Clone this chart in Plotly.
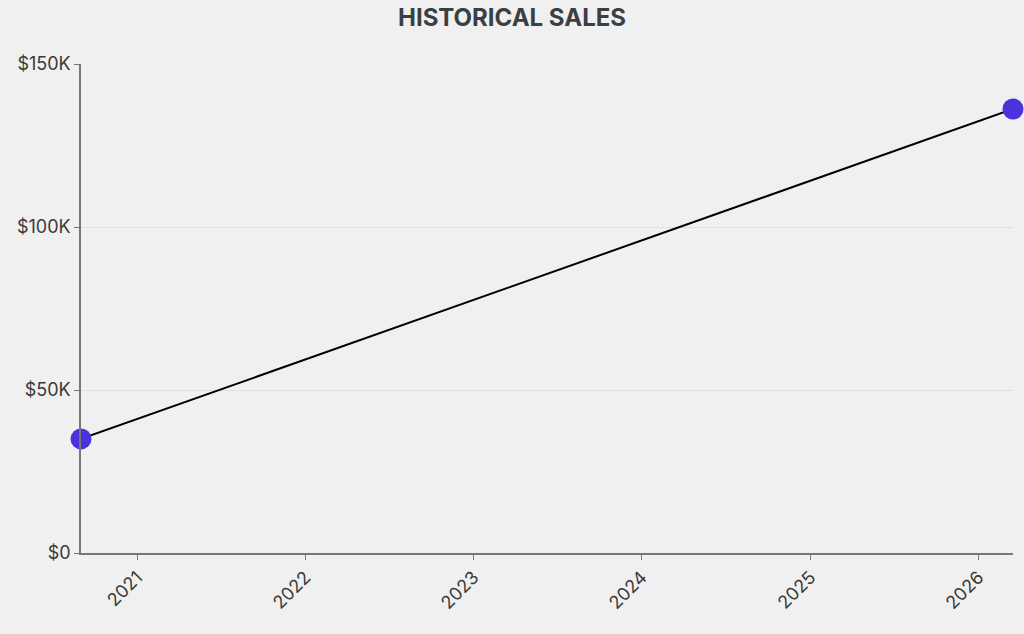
import plotly.graph_objects as go

dates = ["2020-09-01", "2026-03-17"]
sales = [35000, 136200]
y_ticks = [0, 50000, 100000, 150000]
y_labels = ["$0", "$50K", "$100K", "$150K"]
x_ticks = ["2021-01-01", "2022-01-01", "2023-01-01", "2024-01-01", "2025-01-01", "2026-01-01"]
x_labels = ["2021", "2022", "2023", "2024", "2025", "2026"]

fig = go.Figure(go.Scatter(
    x=dates, y=sales, mode="lines+markers",
    line=dict(color="#000000", width=2),
    marker=dict(color="#4a33dd", size=21),
    cliponaxis=False, hoverinfo="x+y",
))

fig.update_layout(
    width=1024, height=634,
    paper_bgcolor="#f0f0f0", plot_bgcolor="#f0f0f0",
    margin=dict(l=81, r=11, t=64, b=81),
    font=dict(family="Inter, Roboto, sans-serif", color="#3a3a3a", size=17),
    title=dict(text="<b>HISTORICAL SALES</b>", x=0.5, xanchor="center", y=0.972, yanchor="middle",
               font=dict(family="Inter, Roboto, sans-serif", size=24, color="#3a3f44")),
    showlegend=False,
    xaxis=dict(type="date", range=[dates[0], dates[-1]], tickmode="array", tickvals=x_ticks, ticktext=x_labels,
               tickangle=-45, showgrid=False, zeroline=False, showline=True, linecolor="#777777", linewidth=1.5,
               ticks="outside", ticklen=5, tickcolor="#777777", tickfont=dict(size=18, color="#3a3a3a")),
    yaxis=dict(range=[0, 150000], tickmode="array", tickvals=y_ticks, ticktext=y_labels,
               showgrid=True, gridcolor="#e0e0e0", gridwidth=1, zeroline=False, showline=True,
               linecolor="#777777", linewidth=1.5, ticks="outside", ticklen=5, tickcolor="#777777",
               tickfont=dict(size=18, color="#3a3a3a")),
)

fig.write_html("out.html", config={"displayModeBar": False},
               post_script="document.body.style.margin='0';document.body.style.background='#f0f0f0';")
